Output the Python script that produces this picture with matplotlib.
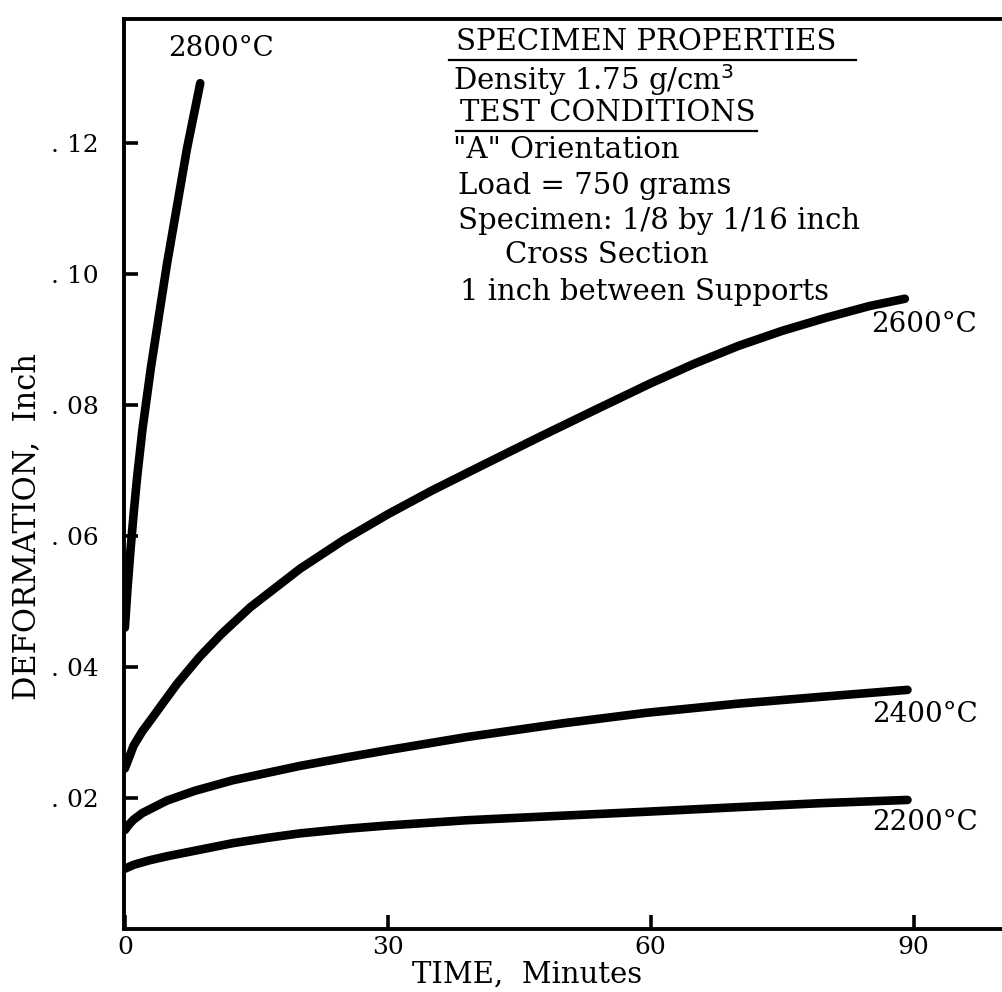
import matplotlib
matplotlib.use("Agg")
import matplotlib.pyplot as plt

# ---- data ----
t_2800 = [0, 0.3, 0.65, 1.0, 1.4, 2.0, 2.97, 4.79, 7.07, 8.6]
d_2800 = [0.046, 0.052, 0.0580, 0.0634, 0.0690, 0.0762, 0.0857, 0.1014, 0.1190, 0.1291]

t_2600 = [0, 1, 2, 3, 4.3, 6, 8.5, 11, 14.3, 20, 25, 30, 35, 40, 47.3, 54, 60, 65, 70, 75, 80, 85, 89]
d_2600 = [0.0245, 0.0280, 0.0302, 0.0320, 0.0344, 0.0375, 0.0415, 0.0450, 0.0491, 0.0550, 0.0594,
          0.0633, 0.0669, 0.07025, 0.0751, 0.07945, 0.0833, 0.0863, 0.0890, 0.0913, 0.0933, 0.0951, 0.0962]

t_2400 = [0, 0.5, 1, 2, 4.8, 8, 12.3, 20, 25.3, 30, 39, 50, 59.5, 70, 80, 89.3]
d_2400 = [0.0151, 0.0160, 0.0167, 0.0177, 0.0196, 0.0211, 0.0227, 0.0249, 0.0262, 0.0273, 0.0293,
          0.0314, 0.0330, 0.0344, 0.0355, 0.0365]

t_2200 = [0, 1, 2.85, 4.8, 8.55, 12.3, 16.2, 20, 25.3, 30, 39, 50, 59.5, 70, 79.3, 89.3]
d_2200 = [0.0092, 0.0098, 0.0105, 0.0111, 0.0121, 0.0131, 0.0139, 0.0146, 0.0153, 0.0158, 0.0166,
          0.0173, 0.0179, 0.0186, 0.0192, 0.0197]

series = [("2800°C", t_2800, d_2800), ("2600°C", t_2600, d_2600),
          ("2400°C", t_2400, d_2400), ("2200°C", t_2200, d_2200)]

x_ticks = [0, 30, 60, 90]
x_ticklabels = ["0", "30", "60", "90"]
y_ticks = [0.02, 0.04, 0.06, 0.08, 0.10, 0.12]
y_ticklabels = [". 02", ". 04", ". 06", ". 08", ". 10", ". 12"]

# label positions (data coords, left edge / vertical centre)
curve_labels = {"2800°C": (4.9, 0.1344), "2600°C": (85.2, 0.0922),
                "2400°C": (85.3, 0.0327), "2200°C": (85.3, 0.0163)}

FONT = "DejaVu Serif"
plt.rcParams["font.family"] = [FONT]

W, H = 1003, 992
fig = plt.figure(figsize=(W / 100, H / 100), dpi=100)
ax = fig.add_axes([124 / W, (H - 929) / H, 1 - 124 / W, (929 - 19) / H])
ax.set_xlim(-0.1, 100.2)
ax.set_ylim(0, 0.1389)

for name, t, d in series:
    ax.plot(t, d, color="black", lw=6.2, solid_capstyle="round", solid_joinstyle="round")
    lx, ly = curve_labels[name]
    ax.text(lx, ly, name, ha="left", va="center", fontsize=20)

for s in ["left", "bottom", "top"]:
    ax.spines[s].set_linewidth(2.8)
    ax.spines[s].set_color("black")
ax.spines["right"].set_visible(False)

ax.set_xticks(x_ticks)
ax.set_xticklabels(x_ticklabels, fontsize=18)
ax.set_yticks(y_ticks)
ax.set_yticklabels(y_ticklabels, fontsize=18)
ax.tick_params(direction="in", length=10, width=2.6)
ax.tick_params(axis="y", pad=18)
ax.tick_params(axis="x", pad=5)

ax.set_xlabel("TIME,  Minutes", fontsize=21)
ax.xaxis.set_label_coords((527 - 124) / 879, (929 - 961) / 910)
ax.set_ylabel("DEFORMATION,  Inch", fontsize=22)
ax.yaxis.label.set_va("center")
ax.yaxis.set_label_coords((27 - 124) / 879, (929 - 527) / 910)

# text block (pixel positions of left edge / vertical centre)
lines = [
    ("SPECIMEN PROPERTIES", 456, 42),
    ("Density 1.75 g/cm$^3$", 453, 80),
    ("TEST CONDITIONS", 460, 113),
    ('"A" Orientation', 453, 150),
    ("Load = 750 grams", 458, 186),
    ("Specimen: 1/8 by 1/16 inch", 458, 221),
    ("Cross Section", 505, 255),
    ("1 inch between Supports", 460, 292),
]
for txt, px, py in lines:
    fig.text(px / W, 1 - py / H, txt, ha="left", va="center", fontsize=21)

# underlines
for x0, x1, yy in [(449, 856, 60), (456, 757, 131)]:
    fig.add_artist(plt.Line2D([x0 / W, x1 / W], [1 - yy / H, 1 - yy / H],
                              color="black", lw=1.6, transform=fig.transFigure))

fig.savefig("out.png", dpi=100, facecolor="white")
